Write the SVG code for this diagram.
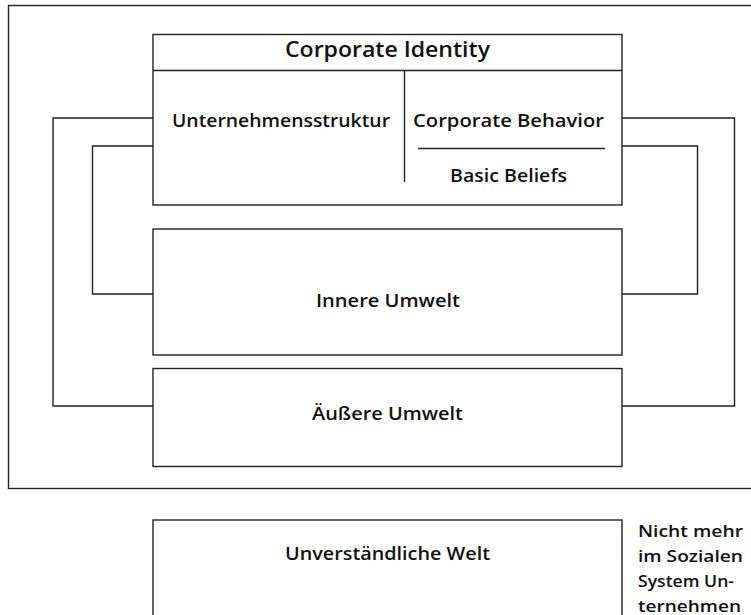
<svg xmlns="http://www.w3.org/2000/svg" width="751" height="615" viewBox="0 0 751 615">
<style>
.box{fill:#fff;stroke:#222;stroke-width:1.4}
.ln{fill:none;stroke:#222;stroke-width:1.4}
.t{font-family:"Open Sans","Liberation Sans",sans-serif;font-weight:600;fill:#111}
</style>
<rect width="751" height="615" fill="#fff"/>
<g id="frame"><rect class="ln" x="8.5" y="5.5" width="760" height="483" stroke-width="1.8"/></g>
<g id="connectors">
<polyline class="ln" points="153,118 53,118 53,406 153,406"/>
<polyline class="ln" points="622,118 734.5,118 734.5,406 622,406"/>
<polyline class="ln" points="153,146 92.5,146 92.5,294 153,294"/>
<polyline class="ln" points="622,146 697.5,146 697.5,294 622,294"/>
</g>
<g id="corporate-identity">
<rect class="box" x="153" y="34.5" width="469" height="170.5"/>
<line class="ln" x1="153" y1="70.5" x2="622" y2="70.5"/>
<line class="ln" x1="404.5" y1="70.5" x2="404.5" y2="182"/>
<line class="ln" x1="418" y1="148.5" x2="605" y2="148.5"/>
<text class="t" x="285" y="57" font-size="21" textLength="205" lengthAdjust="spacingAndGlyphs">Corporate Identity</text>
<text class="t" x="172" y="127" font-size="18.5" textLength="218" lengthAdjust="spacingAndGlyphs">Unternehmensstruktur</text>
<text class="t" x="413" y="127" font-size="18.5" textLength="191" lengthAdjust="spacingAndGlyphs">Corporate Behavior</text>
<text class="t" x="450" y="182" font-size="18.5" textLength="117" lengthAdjust="spacingAndGlyphs">Basic Beliefs</text>
</g>
<g id="innere-umwelt">
<rect class="box" x="153" y="229" width="469" height="126"/>
<text class="t" x="316" y="306.5" font-size="18.5" textLength="144" lengthAdjust="spacingAndGlyphs">Innere Umwelt</text>
</g>
<g id="aeussere-umwelt">
<rect class="box" x="153" y="368.5" width="469" height="98"/>
<text class="t" x="312" y="419.5" font-size="18.5" textLength="151" lengthAdjust="spacingAndGlyphs">Äußere Umwelt</text>
</g>
<g id="unverstaendliche-welt">
<rect class="box" x="153" y="520" width="469" height="110"/>
<text class="t" x="285" y="560" font-size="18.5" textLength="205" lengthAdjust="spacingAndGlyphs">Unverständliche Welt</text>
</g>
<g id="note">
<text class="t" x="638" y="537" font-size="17" textLength="105" lengthAdjust="spacingAndGlyphs">Nicht mehr</text>
<text class="t" x="638" y="562" font-size="17" textLength="105" lengthAdjust="spacingAndGlyphs">im Sozialen</text>
<text class="t" x="638" y="587" font-size="17" textLength="96" lengthAdjust="spacingAndGlyphs">System Un-</text>
<text class="t" x="638" y="612" font-size="17" textLength="103" lengthAdjust="spacingAndGlyphs">ternehmen</text>
</g>
</svg>
